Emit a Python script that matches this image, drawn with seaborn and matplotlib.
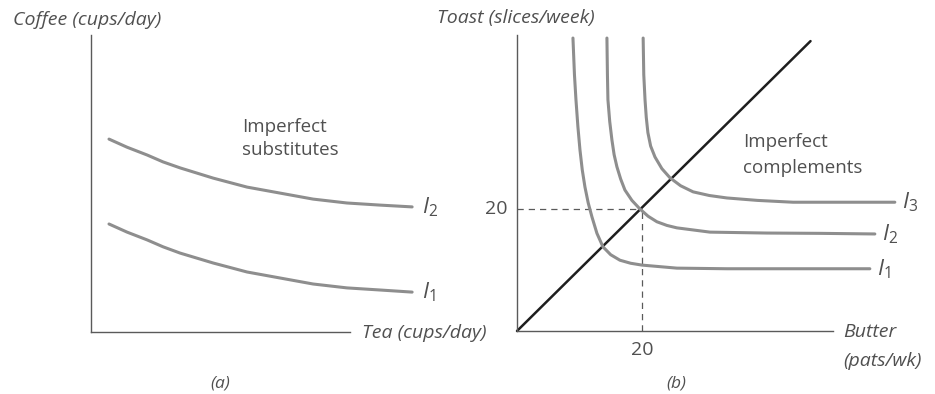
import matplotlib
matplotlib.use("Agg")
import matplotlib.pyplot as plt
import pandas as pd
import seaborn as sns

# panel (a): imperfect substitutes (tea on x, coffee on y), arbitrary units
tea_i1 = [0.6, 1.2, 1.87, 2.4, 2.97, 4.07, 5.2, 6.3, 7.4, 8.53, 9.63, 10.7]
coffee_i1 = [3.6, 3.33, 3.07, 2.84, 2.63, 2.3, 2.0, 1.8, 1.6, 1.47, 1.4, 1.33]
tea_i2 = [0.6, 1.2, 1.87, 2.4, 2.97, 4.07, 5.2, 6.3, 7.4, 8.53, 9.63, 10.7]
coffee_i2 = [6.43, 6.16, 5.9, 5.67, 5.47, 5.13, 4.83, 4.63, 4.43, 4.3, 4.23, 4.17]

# panel (b): imperfect complements (butter on x, toast on y)
butter_i1 = [8.96, 9.2, 9.44, 9.75, 10.08, 10.45, 10.88, 11.4, 12.0, 12.8,
             13.76, 15.0, 16.48, 18.2, 20.0, 25.6, 33.6, 56.5]
toast_i1 = [48.0, 42.0, 37.9, 33.5, 29.7, 26.4, 23.6, 21.0, 18.7, 16.0,
            13.8, 12.5, 11.6, 11.1, 10.8, 10.3, 10.2, 10.2]
butter_i2 = [14.4, 14.48, 14.56, 14.85, 15.2, 15.55, 16.0, 16.6, 17.28, 18.4,
             19.68, 21.0, 22.4, 24.0, 25.6, 30.9, 40.0, 48.5, 57.3]
toast_i2 = [48.0, 42.0, 37.9, 34.3, 31.3, 28.9, 26.9, 24.9, 23.1, 21.4,
            20.0, 18.8, 17.9, 17.3, 16.9, 16.2, 16.05, 16.0, 15.9]
butter_i3 = [20.2, 20.3, 20.5, 20.7, 20.96, 21.4, 22.1, 23.2, 24.5, 26.2,
             28.2, 30.8, 33.6, 38.5, 44.2, 60.5]
toast_i3 = [48.0, 42.0, 37.9, 35.0, 32.5, 30.3, 28.5, 26.6, 25.1, 23.8,
            22.8, 22.2, 21.8, 21.4, 21.1, 21.1]
ray_butter = [0, 47]
ray_toast = [0, 47.5]
guide_butter = 20
guide_toast = 20

sns.set_theme(style="white")
plt.rcParams['font.family'] = ['Open Sans', 'DejaVu Sans']
plt.rcParams['mathtext.fontset'] = 'custom'
plt.rcParams['mathtext.it'] = 'Open Sans:italic'
plt.rcParams['mathtext.rm'] = 'Open Sans'

TXT = '#505050'
CURVE = '#8e8e8e'
AXIS = '#5a5a5a'

fig = plt.figure(figsize=(9.35, 3.94), dpi=100)
W, H = 935, 394


def fx(px):
    return px / W


def fy(py):
    return 1 - py / H


ax_a = fig.add_axes([fx(91), fy(332), (350 - 91) / W, (332 - 35) / H])
ax_b = fig.add_axes([fx(517), fy(331), (833 - 517) / W, (331 - 35) / H])

for ax in (ax_a, ax_b):
    sns.despine(ax=ax)
    for s in ('left', 'bottom'):
        ax.spines[s].set_color(AXIS)
        ax.spines[s].set_linewidth(1.0)
    ax.patch.set_alpha(0)

ax_a.set_xlim(0, 8.63)
ax_a.set_ylim(0, 9.9)
ax_b.set_xlim(0, 50.6)
ax_b.set_ylim(0, 48.5)


def draw_curve(ax, xs, ys, color, lw, label=None, dx=7):
    df = pd.DataFrame({'x': xs, 'y': ys})
    sns.lineplot(data=df, x='x', y='y', ax=ax, color=color, lw=lw,
                 sort=False, estimator=None)
    ax.lines[-1].set_clip_on(False)
    if label:
        ax.annotate(f'$I_{label}$', (xs[-1], ys[-1]), xytext=(dx, 0),
                    textcoords='offset points', ha='left', va='center',
                    fontsize=16, color=TXT, annotation_clip=False)


# --- panel (a)
draw_curve(ax_a, tea_i1, coffee_i1, CURVE, 2.2, '1')
draw_curve(ax_a, tea_i2, coffee_i2, CURVE, 2.2, '2')

fig.text(fx(242), fy(127), 'Imperfect', fontsize=13.5, color=TXT, va='center', ha='left')
fig.text(fx(242), fy(150), 'substitutes', fontsize=13.5, color=TXT, va='center', ha='left')

# --- panel (b)
draw_curve(ax_b, ray_butter, ray_toast, '#1e1e1e', 1.8)

ax_b.plot([0, guide_butter], [guide_toast, guide_toast], color=AXIS,
          lw=0.9, ls=(0, (5, 4)))
ax_b.plot([guide_butter, guide_butter], [0, guide_toast], color=AXIS,
          lw=0.9, ls=(0, (5, 4)))

draw_curve(ax_b, butter_i1, toast_i1, CURVE, 2.2, '1', dx=5)
draw_curve(ax_b, butter_i2, toast_i2, CURVE, 2.2, '2', dx=5)
draw_curve(ax_b, butter_i3, toast_i3, CURVE, 2.2, '3', dx=5)

ax_b.annotate(str(guide_toast), (0, guide_toast), xytext=(-7, 0),
              textcoords='offset points', ha='right', va='center',
              fontsize=14, color=TXT, annotation_clip=False)
ax_b.annotate(str(guide_butter), (guide_butter, 0), xytext=(0, -14),
              textcoords='offset points', ha='center', va='center',
              fontsize=14, color=TXT, annotation_clip=False)

fig.text(fx(743), fy(142), 'Imperfect', fontsize=13.5, color=TXT, va='center', ha='left')
fig.text(fx(743), fy(168), 'complements', fontsize=13.5, color=TXT, va='center', ha='left')

for ax in (ax_a, ax_b):
    ax.set_xticks([])
    ax.set_yticks([])
    ax.set_xlabel('')
    ax.set_ylabel('')

# axis titles and panel tags
ital = dict(fontsize=14, color=TXT, style='italic', va='center')
fig.text(fx(13), fy(20), 'Coffee (cups/day)', ha='left', **ital)
fig.text(fx(362), fy(333), 'Tea (cups/day)', ha='left', **ital)
fig.text(fx(437), fy(18), 'Toast (slices/week)', ha='left', **ital)
fig.text(fx(843), fy(332), 'Butter', ha='left', **ital)
fig.text(fx(843), fy(361), '(pats/wk)', ha='left', **ital)
fig.text(fx(220), fy(383), '(a)', ha='center', fontsize=12.5, color=TXT,
         style='italic', va='center')
fig.text(fx(676), fy(383), '(b)', ha='center', fontsize=12.5, color=TXT,
         style='italic', va='center')

fig.savefig('out.png', dpi=100, facecolor='white')
